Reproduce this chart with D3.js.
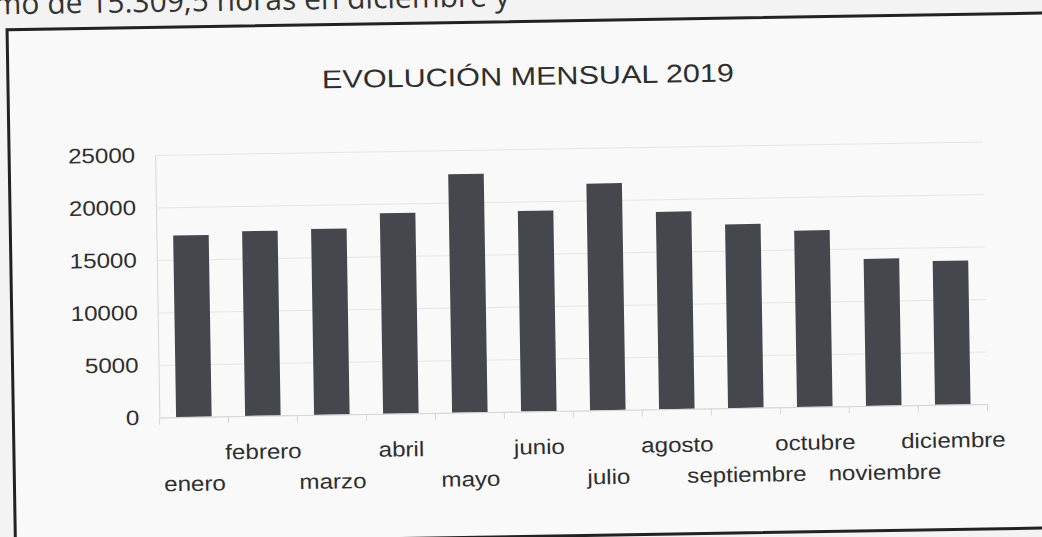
<!DOCTYPE html>
<html lang="es">
<head>
<meta charset="UTF-8">
<title>Evolución mensual 2019</title>
<script src="https://d3js.org/d3.v7.min.js"></script>
<style>
  body { margin: 0; background: #f3f3f3; overflow: hidden; }
  text { font-family: "Liberation Sans", Arial, sans-serif; fill: #2e2e2e; }
</style>
</head>
<body>
<script>
// values (hours per month)
const months = ["enero", "febrero", "marzo", "abril", "mayo", "junio",
                "julio", "agosto", "septiembre", "octubre", "noviembre", "diciembre"];
const hours = [17300, 17600, 17700, 19100, 22700, 19100,
               21600, 18800, 17500, 16800, 14000, 13700];
const yTicks = [0, 5000, 10000, 15000, 20000, 25000];
const chartTitle = "EVOLUCIÓN MENSUAL 2019";
const pageLine = "mo de 15.309,5 horas en diciembre y";

const width = 1042, height = 537;
const stretch = 1.15;   // scan is a bit wider than tall

const svg = d3.select("body").append("svg")
    .attr("width", width)
    .attr("height", height);

// the page was scanned slightly tilted
const page = svg.append("g").attr("transform", "rotate(-0.93, 521, 268)");

// cut-off line of the document text above the chart
page.append("text")
    .attr("x", -2)
    .attr("y", 6)
    .style("font-family", "'Open Sans', sans-serif")
    .style("font-size", "30px")
    .style("fill", "#333")
    .text(pageLine);

// chart frame
page.append("rect")
    .attr("x", 11)
    .attr("y", 21.5)
    .attr("width", 1045)
    .attr("height", 515)
    .attr("fill", "#f9f9f9")
    .attr("stroke", "#222")
    .attr("stroke-width", 3);

const plotLeft = 157, plotRight = 985;

const x = d3.scaleBand()
    .domain(months)
    .range([plotLeft, plotRight])
    .paddingInner(0.485)
    .paddingOuter(0.2425);

const y = d3.scaleLinear()
    .domain([0, 25000])
    .range([411.5, 149]);

// title
page.append("g")
    .attr("transform", `translate(531, 85) scale(1.2, 1)`)
  .append("text")
    .attr("text-anchor", "middle")
    .style("font-size", "25.5px")
    .text(chartTitle);

// y axis with gridlines
const yAxis = page.append("g")
    .attr("transform", `translate(${plotLeft}, 0)`)
    .call(d3.axisLeft(y)
        .tickValues(yTicks)
        .tickSizeInner(-(plotRight - plotLeft))
        .tickSizeOuter(0)
        .tickPadding(20)
        .tickFormat(d3.format("d")));

yAxis.select(".domain").attr("stroke", "#d6d6d6");
yAxis.selectAll(".tick line").attr("stroke", "#e6e6e6");
yAxis.selectAll(".tick text")
    .attr("transform", `scale(${stretch}, 1)`)
    .attr("x", -20 / stretch)
    .style("font-size", "21px")
    .attr("fill", "#2e2e2e");

// bars
page.append("g")
    .selectAll("rect")
    .data(hours)
    .join("rect")
    .attr("x", (d, i) => x(months[i]))
    .attr("y", d => y(d))
    .attr("width", x.bandwidth())
    .attr("height", d => y(0) - y(d))
    .attr("fill", "#46474c");

// x axis: baseline, tick marks between categories, staggered labels
const xAxis = page.append("g")
    .attr("transform", `translate(0, ${y(0)})`)
    .call(d3.axisBottom(x).tickSize(0).tickPadding(0));

xAxis.select(".domain").attr("stroke", "#d6d6d6");

const bounds = months.map(m => x(m) + x.bandwidth() / 2 - x.step() / 2);
bounds.push(plotRight);
xAxis.selectAll(".cat-tick")
    .data(bounds)
    .join("line")
    .attr("class", "cat-tick")
    .attr("x1", d => d).attr("x2", d => d)
    .attr("y1", 0).attr("y2", 7)
    .attr("stroke", "#d6d6d6");

xAxis.selectAll(".tick text")
    .attr("y", (d, i) => i % 2 === 1 ? 43 : 74)
    .attr("dy", 0)
    .attr("transform", `scale(${stretch}, 1)`)
    .style("font-size", "21px")
    .attr("fill", "#2e2e2e");
</script>
</body>
</html>
